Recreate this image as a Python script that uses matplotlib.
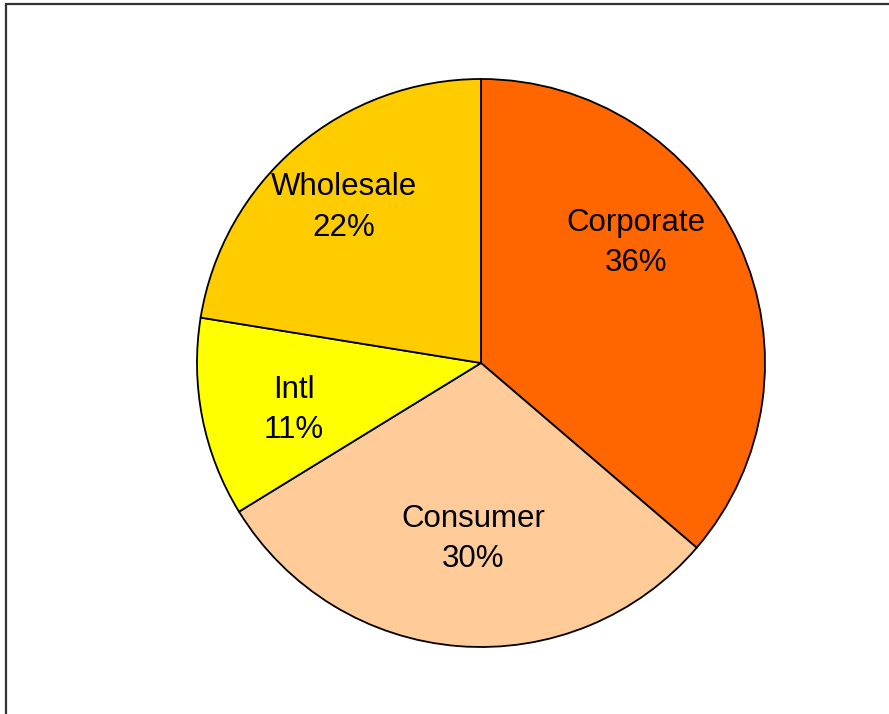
import numpy as np
import matplotlib
matplotlib.use("Agg")
import matplotlib.pyplot as plt
from matplotlib.patches import Rectangle

segments = ["Corporate", "Consumer", "Intl", "Wholesale"]
shares = [36.2, 29.9, 11.3, 22.4]
colors = ["#FF6600", "#FFCC99", "#FFFF00", "#FFCC00"]

# small nudges (degrees, radius) so labels sit inside their slices
label_angle_shift = [-13, -2, -3, -1]
label_radius = [0.69, 0.62, 0.68, 0.73]

plt.rcParams["font.family"] = ["Liberation Sans", "DejaVu Sans"]

W, H = 889, 714
fig = plt.figure(figsize=(W / 100, H / 100), dpi=100)

# outer chart border, runs off the right/bottom edge
fig.patches.append(Rectangle((5.5 / W, -0.05), 1.1, 1 - 4 / H + 0.05,
                             transform=fig.transFigure, fill=False,
                             edgecolor="#333333", linewidth=1.6))

r_px = 284
cx, cy = 481, H - 363
ax = fig.add_axes([(cx - r_px) / W, (cy - r_px) / H, 2 * r_px / W, 2 * r_px / H])

wedges, texts = ax.pie(shares, colors=colors, startangle=90, counterclock=False,
                       labels=[f"{s}\n{v:.0f}%" for s, v in zip(segments, shares)],
                       labeldistance=0.68,
                       wedgeprops=dict(edgecolor="black", linewidth=1.3),
                       textprops=dict(fontsize=22.5, ha="center", va="center",
                                      linespacing=1.45))

for w, t, da, rr in zip(wedges, texts, label_angle_shift, label_radius):
    mid = np.deg2rad((w.theta1 + w.theta2) / 2 - da)
    t.set_position((rr * np.cos(mid), rr * np.sin(mid)))
    t.set_ha("center")
    t.set_va("center")

ax.set_xlim(-1, 1)
ax.set_ylim(-1, 1)
ax.set_aspect("equal")
ax.axis("off")

fig.savefig("out.png", dpi=100)
